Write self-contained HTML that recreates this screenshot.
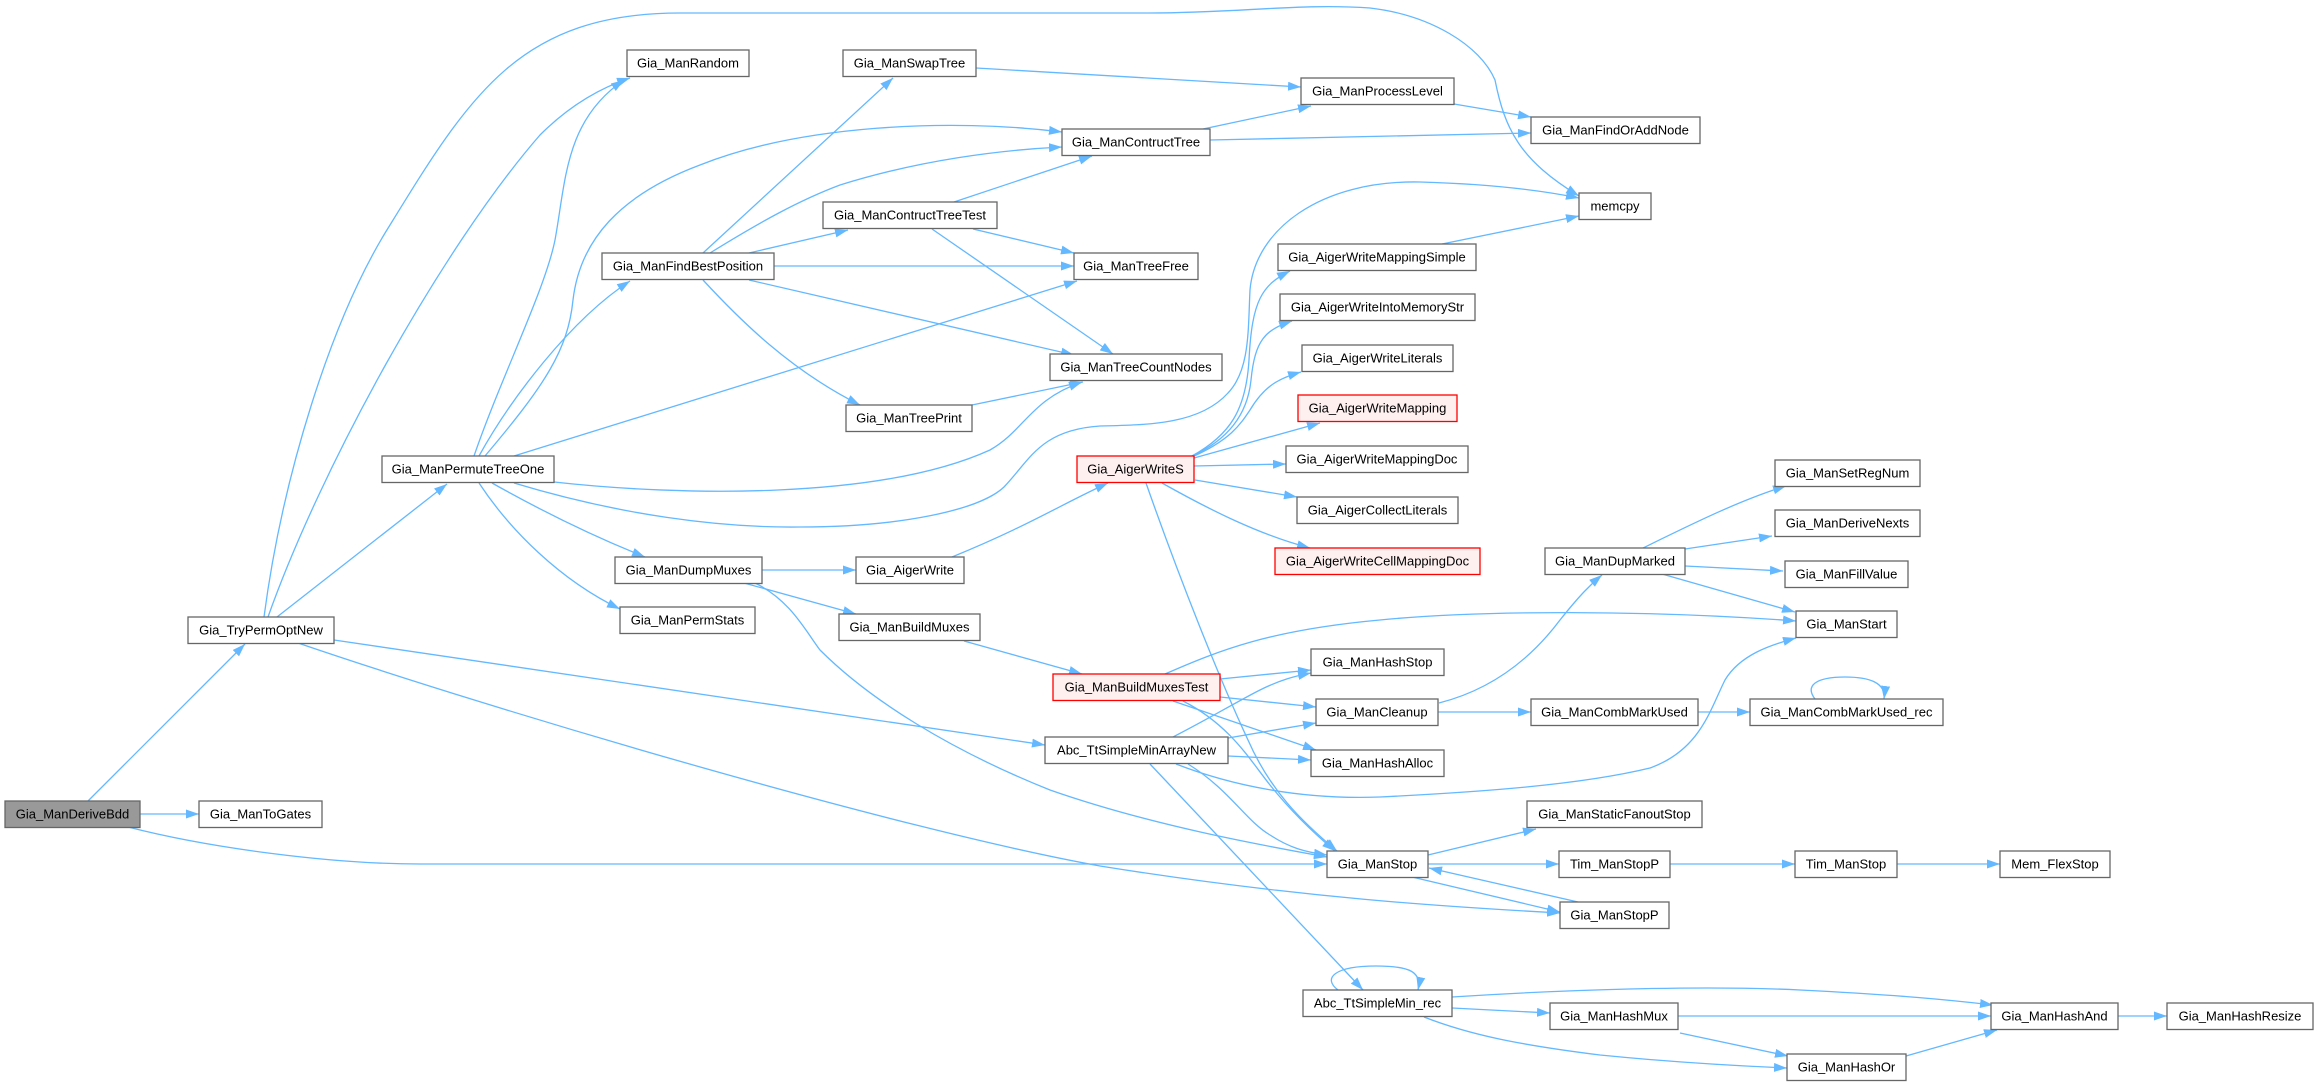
<!DOCTYPE html>
<html><head><meta charset="utf-8"><style>
html,body{margin:0;padding:0;background:#fff;}
svg{display:block;}
text{font-family:"Liberation Sans",Arial,sans-serif;font-size:13px;fill:#000;text-anchor:middle;}
.n{fill:#fff;stroke:#666;stroke-width:1.3;}
.r{fill:#fff0f0;stroke:#ff0000;stroke-width:1.3;}
.g{fill:#999;stroke:#666;stroke-width:1.3;}
.e{fill:none;stroke:#63b8ff;stroke-width:1.3;marker-end:url(#a);}
</style></head><body>
<svg width="2317" height="1086" viewBox="0 0 2317 1086" xmlns="http://www.w3.org/2000/svg">
<defs><marker id="a" markerUnits="userSpaceOnUse" markerWidth="14" markerHeight="10" refX="13" refY="4.5" orient="auto"><path d="M0,0 L13,4.5 L0,9 z" fill="#63b8ff"/></marker></defs>
<g>
<path class="e" d="M88,801 L245,644"/>
<path class="e" d="M140,814 L199,814"/>
<path class="e" d="M128,827 C210,848 330,864 420,864 L1327,864"/>
<path class="e" d="M264,617 C282,480 330,320 390,225 C470,95 520,13 680,13 L1150,13 C1240,13 1300,3 1370,8 C1430,15 1480,45 1495,80 C1505,130 1520,160 1579,196"/>
<path class="e" d="M268,617 C320,470 440,250 540,135 C570,105 600,88 630,78"/>
<path class="e" d="M277,617 L447,484"/>
<path class="e" d="M334,640 L1045,745"/>
<path class="e" d="M298,643 C500,712 900,830 1100,866 C1300,898 1450,907 1560,913"/>
<path class="e" d="M474,456 C500,380 545,290 555,240 C566,180 565,120 624,80"/>
<path class="e" d="M479,456 C510,400 570,320 630,281"/>
<path class="e" d="M485,456 C545,385 568,350 573,300 C580,240 620,195 700,165 C800,125 950,118 1062,132"/>
<path class="e" d="M514,456 L1077,281"/>
<path class="e" d="M554,482 C680,496 880,500 990,450 C1025,430 1030,400 1082,382"/>
<path class="e" d="M514,483 C620,515 720,528 800,527 C900,527 980,510 1004,487 C1030,460 1040,430 1100,426 C1150,425 1200,424 1228,393 C1250,370 1248,330 1250,290 C1255,230 1320,180 1420,182 C1490,184 1540,190 1579,198"/>
<path class="e" d="M492,483 C540,510 590,535 645,557"/>
<path class="e" d="M479,483 C510,530 560,580 620,609"/>
<path class="e" d="M703,253 L893,78"/>
<path class="e" d="M710,253 C760,222 800,200 840,185 C920,160 1000,150 1062,147"/>
<path class="e" d="M749,253 L848,230"/>
<path class="e" d="M774,266 L1074,266"/>
<path class="e" d="M749,280 L1074,355"/>
<path class="e" d="M703,280 C740,320 790,370 860,405"/>
<path class="e" d="M954,202 L1092,156"/>
<path class="e" d="M973,229 L1074,253"/>
<path class="e" d="M932,229 L1113,354"/>
<path class="e" d="M976,68 L1301,87"/>
<path class="e" d="M1203,129 L1311,106"/>
<path class="e" d="M1210,140 L1531,133"/>
<path class="e" d="M1454,104 L1531,117"/>
<path class="e" d="M972,405 L1083,382"/>
<path class="e" d="M762,570 L856,570"/>
<path class="e" d="M744,583 L856,614"/>
<path class="e" d="M755,583 C790,600 805,630 820,650 C870,700 950,750 1050,790 C1150,825 1260,845 1327,857"/>
<path class="e" d="M952,557 C1030,525 1060,505 1108,483"/>
<path class="e" d="M1192,456 C1230,435 1246,410 1249,360 C1252,300 1262,285 1290,271"/>
<path class="e" d="M1192,456 C1232,438 1248,410 1251,380 C1255,340 1265,330 1292,321"/>
<path class="e" d="M1192,457 C1230,440 1240,425 1250,410 C1265,385 1280,378 1301,372"/>
<path class="e" d="M1194,458 L1320,423"/>
<path class="e" d="M1194,466 L1286,464"/>
<path class="e" d="M1195,480 L1297,497"/>
<path class="e" d="M1162,483 C1210,510 1260,535 1310,548"/>
<path class="e" d="M1146,483 C1180,580 1220,680 1248,740 C1270,790 1300,820 1337,851"/>
<path class="e" d="M964,641 L1082,674"/>
<path class="e" d="M1165,674 C1220,650 1270,630 1380,620 C1480,610 1650,610 1796,621"/>
<path class="e" d="M1220,679 L1311,670"/>
<path class="e" d="M1220,697 L1316,707"/>
<path class="e" d="M1173,701 L1316,750"/>
<path class="e" d="M1183,701 C1230,725 1250,760 1270,785 C1290,810 1310,830 1335,851"/>
<path class="e" d="M1173,737 C1210,718 1240,700 1260,690 C1280,680 1295,676 1311,673"/>
<path class="e" d="M1228,738 L1316,723"/>
<path class="e" d="M1228,756 L1311,760"/>
<path class="e" d="M1176,764 C1230,785 1300,800 1380,797 C1480,792 1580,785 1650,768 C1700,750 1710,710 1725,680 C1740,655 1770,645 1796,638"/>
<path class="e" d="M1188,764 C1230,790 1245,820 1270,835 C1290,848 1305,852 1327,855"/>
<path class="e" d="M1150,764 L1363,990"/>
<path class="e" d="M1338,990 C1322,978 1335,966 1376,966 C1410,966 1422,972 1418,990"/>
<path class="e" d="M1452,997 C1560,990 1700,985 1800,990 C1900,995 1950,1000 1993,1005"/>
<path class="e" d="M1452,1008 L1550,1013"/>
<path class="e" d="M1424,1017 C1470,1035 1520,1045 1600,1055 C1680,1063 1740,1066 1787,1068"/>
<path class="e" d="M1678,1016 L1991,1016"/>
<path class="e" d="M1680,1033 L1788,1056"/>
<path class="e" d="M1906,1056 L1997,1030"/>
<path class="e" d="M2118,1016 L2167,1016"/>
<path class="e" d="M1428,855 L1536,829"/>
<path class="e" d="M1428,864 L1559,864"/>
<path class="e" d="M1412,877 L1560,912"/>
<path class="e" d="M1578,902 L1429,868"/>
<path class="e" d="M1670,864 L1795,864"/>
<path class="e" d="M1897,864 L2000,864"/>
<path class="e" d="M1439,703 C1490,690 1530,660 1560,620 C1580,595 1590,585 1602,575"/>
<path class="e" d="M1438,712 L1531,712"/>
<path class="e" d="M1698,712 L1750,712"/>
<path class="e" d="M1815,699 C1805,686 1815,677 1845,677 C1870,677 1886,683 1884,699"/>
<path class="e" d="M1643,548 C1690,525 1740,500 1786,486"/>
<path class="e" d="M1685,549 L1772,536"/>
<path class="e" d="M1685,566 L1783,571"/>
<path class="e" d="M1662,574 L1795,612"/>
<path class="e" d="M1442,244 L1579,216"/>
</g>
<g>
<rect class="g" x="5" y="801" width="135" height="26.5"/><text x="72.5" y="818.5">Gia_ManDeriveBdd</text>
<rect class="n" x="199" y="801" width="123" height="26.5"/><text x="260.5" y="818.5">Gia_ManToGates</text>
<rect class="n" x="188" y="617" width="146" height="26.5"/><text x="261" y="634.5">Gia_TryPermOptNew</text>
<rect class="n" x="382" y="456" width="172" height="26.5"/><text x="468" y="473.5">Gia_ManPermuteTreeOne</text>
<rect class="n" x="627" y="50" width="122" height="26.5"/><text x="688" y="67.5">Gia_ManRandom</text>
<rect class="n" x="602" y="253" width="172" height="26.5"/><text x="688" y="270.5">Gia_ManFindBestPosition</text>
<rect class="n" x="615" y="557" width="147" height="26.5"/><text x="688.5" y="574.5">Gia_ManDumpMuxes</text>
<rect class="n" x="620" y="607" width="135" height="26.5"/><text x="687.5" y="624.5">Gia_ManPermStats</text>
<rect class="n" x="843" y="50" width="133" height="26.5"/><text x="909.5" y="67.5">Gia_ManSwapTree</text>
<rect class="n" x="823" y="202" width="174" height="26.5"/><text x="910" y="219.5">Gia_ManContructTreeTest</text>
<rect class="n" x="846" y="405" width="126" height="26.5"/><text x="909" y="422.5">Gia_ManTreePrint</text>
<rect class="n" x="856" y="557" width="108" height="26.5"/><text x="910" y="574.5">Gia_AigerWrite</text>
<rect class="n" x="839" y="614" width="141" height="26.5"/><text x="909.5" y="631.5">Gia_ManBuildMuxes</text>
<rect class="n" x="1062" y="129" width="148" height="26.5"/><text x="1136" y="146.5">Gia_ManContructTree</text>
<rect class="n" x="1074" y="253" width="124" height="26.5"/><text x="1136" y="270.5">Gia_ManTreeFree</text>
<rect class="n" x="1050" y="354" width="172" height="26.5"/><text x="1136" y="371.5">Gia_ManTreeCountNodes</text>
<rect class="r" x="1077" y="456" width="117" height="26.5"/><text x="1135.5" y="473.5">Gia_AigerWriteS</text>
<rect class="r" x="1053" y="674" width="167" height="26.5"/><text x="1136.5" y="691.5">Gia_ManBuildMuxesTest</text>
<rect class="n" x="1045" y="737" width="183" height="26.5"/><text x="1136.5" y="754.5">Abc_TtSimpleMinArrayNew</text>
<rect class="n" x="1301" y="78" width="153" height="26.5"/><text x="1377.5" y="95.5">Gia_ManProcessLevel</text>
<rect class="n" x="1278" y="244" width="198" height="26.5"/><text x="1377" y="261.5">Gia_AigerWriteMappingSimple</text>
<rect class="n" x="1280" y="294" width="195" height="26.5"/><text x="1377.5" y="311.5">Gia_AigerWriteIntoMemoryStr</text>
<rect class="n" x="1302" y="345" width="151" height="26.5"/><text x="1377.5" y="362.5">Gia_AigerWriteLiterals</text>
<rect class="r" x="1298" y="395" width="159" height="26.5"/><text x="1377.5" y="412.5">Gia_AigerWriteMapping</text>
<rect class="n" x="1286" y="446" width="182" height="26.5"/><text x="1377" y="463.5">Gia_AigerWriteMappingDoc</text>
<rect class="n" x="1297" y="497" width="161" height="26.5"/><text x="1377.5" y="514.5">Gia_AigerCollectLiterals</text>
<rect class="r" x="1275" y="548" width="205" height="26.5"/><text x="1377.5" y="565.5">Gia_AigerWriteCellMappingDoc</text>
<rect class="n" x="1311" y="649" width="133" height="26.5"/><text x="1377.5" y="666.5">Gia_ManHashStop</text>
<rect class="n" x="1316" y="699" width="122" height="26.5"/><text x="1377" y="716.5">Gia_ManCleanup</text>
<rect class="n" x="1311" y="750" width="133" height="26.5"/><text x="1377.5" y="767.5">Gia_ManHashAlloc</text>
<rect class="n" x="1327" y="851" width="101" height="26.5"/><text x="1377.5" y="868.5">Gia_ManStop</text>
<rect class="n" x="1303" y="990" width="149" height="26.5"/><text x="1377.5" y="1007.5">Abc_TtSimpleMin_rec</text>
<rect class="n" x="1531" y="117" width="169" height="26.5"/><text x="1615.5" y="134.5">Gia_ManFindOrAddNode</text>
<rect class="n" x="1579" y="193" width="72" height="26.5"/><text x="1615" y="210.5">memcpy</text>
<rect class="n" x="1545" y="548" width="140" height="26.5"/><text x="1615" y="565.5">Gia_ManDupMarked</text>
<rect class="n" x="1531" y="699" width="167" height="26.5"/><text x="1614.5" y="716.5">Gia_ManCombMarkUsed</text>
<rect class="n" x="1527" y="801" width="175" height="26.5"/><text x="1614.5" y="818.5">Gia_ManStaticFanoutStop</text>
<rect class="n" x="1559" y="851" width="111" height="26.5"/><text x="1614.5" y="868.5">Tim_ManStopP</text>
<rect class="n" x="1560" y="902" width="109" height="26.5"/><text x="1614.5" y="919.5">Gia_ManStopP</text>
<rect class="n" x="1550" y="1003" width="128" height="26.5"/><text x="1614" y="1020.5">Gia_ManHashMux</text>
<rect class="n" x="1787" y="1054" width="119" height="26.5"/><text x="1846.5" y="1071.5">Gia_ManHashOr</text>
<rect class="n" x="1775" y="460" width="145" height="26.5"/><text x="1847.5" y="477.5">Gia_ManSetRegNum</text>
<rect class="n" x="1775" y="510" width="145" height="26.5"/><text x="1847.5" y="527.5">Gia_ManDeriveNexts</text>
<rect class="n" x="1785" y="561" width="123" height="26.5"/><text x="1846.5" y="578.5">Gia_ManFillValue</text>
<rect class="n" x="1796" y="611" width="101" height="26.5"/><text x="1846.5" y="628.5">Gia_ManStart</text>
<rect class="n" x="1750" y="699" width="193" height="26.5"/><text x="1846.5" y="716.5">Gia_ManCombMarkUsed_rec</text>
<rect class="n" x="1795" y="851" width="102" height="26.5"/><text x="1846" y="868.5">Tim_ManStop</text>
<rect class="n" x="1991" y="1003" width="127" height="26.5"/><text x="2054.5" y="1020.5">Gia_ManHashAnd</text>
<rect class="n" x="2000" y="851" width="110" height="26.5"/><text x="2055" y="868.5">Mem_FlexStop</text>
<rect class="n" x="2167" y="1003" width="146" height="26.5"/><text x="2240" y="1020.5">Gia_ManHashResize</text>
</g>
</svg>
</body></html>
